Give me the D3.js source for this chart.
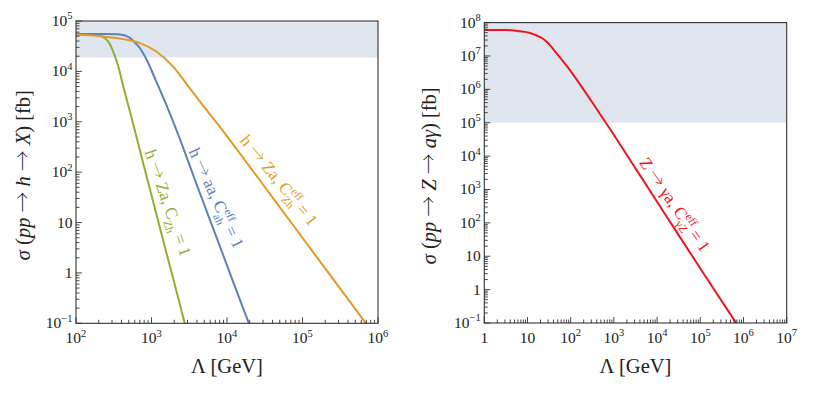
<!DOCTYPE html>
<html lang="en">
<head>
<meta charset="UTF-8">
<title>Cross sections vs Lambda</title>
<script src="https://d3js.org/d3.v7.min.js"></script>
<style>
  body { margin: 0; background: #fff; }
</style>
</head>
<body>
<div id="chart"></div>
<script>
// ---- data (Lambda in GeV, sigma in fb) ----
const greenLambda = [100, 158, 208, 234, 268, 312, 363, 423, 519, 794, 1259, 1995, 2754];
const greenSigma  = [5.4e4, 5.37e4, 5.2e4, 4.68e4, 3.9e4, 2.45e4, 1.26e4, 5.0e3, 1.58e3, 132, 9.1, 0.65, 0.1];

const blueLambda = [100, 251, 355, 417, 470, 525, 574, 631, 705, 863, 1112, 1510, 2265, 3981, 7943, 12590, 19500];
const blueSigma  = [5.5e4, 5.5e4, 5.45e4, 5.28e4, 5.0e4, 4.57e4, 3.98e4, 3.47e4, 2.88e4, 1.70e4, 7.24e3, 2.51e3, 550, 56, 3.55, 0.56, 0.1];

const orangeLambda = [100, 208, 423, 705, 1172, 1945, 3236, 5383, 7674, 19950, 63100, 199500, 691800];
const orangeSigma  = [5.4e4, 5.0e4, 4.37e4, 3.63e4, 2.45e4, 1.23e4, 4.57e3, 1.70e3, 871, 129, 12.6, 1.23, 0.1];

const redLambda = [1, 3.16, 5.8, 11.9, 15.8, 22, 30.2, 41, 83.4, 203, 413, 771, 3162, 15850, 1e5, 676000];
const redSigma  = [6.0e7, 6.0e7, 5.6e7, 4.8e7, 4.17e7, 3.4e7, 2.4e7, 1.5e7, 4.8e6, 9.5e5, 2.4e5, 7.2e4, 4.3e3, 170, 4.3, 0.1];

const leftBand  = [1.9e4, 1e5];
const rightBand = [1e5, 1e8];

const leftXTicks  = [1e2, 1e3, 1e4, 1e5, 1e6];
const leftYTicks  = [1e-1, 1, 10, 1e2, 1e3, 1e4, 1e5];
const rightXTicks = [1, 10, 1e2, 1e3, 1e4, 1e5, 1e6, 1e7];
const rightYTicks = [1e-1, 1, 10, 1e2, 1e3, 1e4, 1e5, 1e6, 1e7, 1e8];

const W = 831, H = 401;
const SERIF = "'Liberation Serif', 'Times New Roman', serif";
const ARROW = "'Noto Serif CJK SC', 'DejaVu Serif', serif";
const svg = d3.select("#chart").append("svg")
    .attr("width", W).attr("height", H)
    .style("display", "block")
    .attr("font-family", SERIF);

const FRAME = "#333";
const BAND = "#dfe6f0";

// rich text: segments {s, i, a} or {sup, sub}
function rich(text, segs, fs) {
    let cur = 0, pendDx = 0;
    text.attr("font-family", SERIF);
    segs.forEach(sg => {
        if (sg.sup != null || sg.sub != null) {
            const small = fs * 0.68;
            let w = 0;
            if (sg.sup != null) {
                const t = text.append("tspan").attr("font-size", small)
                    .attr("dy", -fs * 0.42 - cur).text(sg.sup);
                if (pendDx) t.attr("dx", pendDx), pendDx = 0;
                cur = -fs * 0.42;
                w = t.node().getComputedTextLength();
            }
            if (sg.sub != null) {
                const t = text.append("tspan").attr("font-size", small)
                    .attr("dx", -w).attr("dy", fs * 0.3 - cur).text(sg.sub);
                if (sg.subI) t.style("font-style", "italic");
                cur = fs * 0.3;
                const sw = t.node().getComputedTextLength();
                if (w > sw) pendDx = w - sw;
            }
        } else {
            const t = text.append("tspan").attr("dy", -cur).text(sg.s);
            if (pendDx) t.attr("dx", pendDx), pendDx = 0;
            if (sg.i) t.style("font-style", "italic");
            if (sg.a) t.attr("font-family", ARROW);
            cur = 0;
        }
    });
}

function tickSegs(v) {
    const e = Math.round(Math.log10(v));
    if (e === 0) return [{s: "1"}];
    if (e === 1) return [{s: "10"}];
    return [{s: "10"}, {sup: e < 0 ? "\u2212" + (-e) : String(e)}];
}

function minorTicks(domain) {
    const out = [];
    const lo = Math.floor(Math.log10(domain[0])), hi = Math.ceil(Math.log10(domain[1]));
    for (let d = lo; d < hi; d++) {
        for (let m = 2; m <= 9; m++) {
            const v = m * Math.pow(10, d);
            if (v > domain[0] && v < domain[1]) out.push(v);
        }
    }
    return out;
}

function panel(cfg, id) {
    const x = d3.scaleLog().domain(cfg.xDomain).range([cfg.x0, cfg.x1]);
    const y = d3.scaleLog().domain(cfg.yDomain).range([cfg.y1, cfg.y0]);

    svg.append("clipPath").attr("id", "clip" + id)
        .append("rect")
        .attr("x", cfg.x0).attr("y", cfg.y0)
        .attr("width", cfg.x1 - cfg.x0).attr("height", cfg.y1 - cfg.y0);

    // shaded region
    svg.append("rect")
        .attr("x", cfg.x0).attr("width", cfg.x1 - cfg.x0)
        .attr("y", y(cfg.band[1])).attr("height", y(cfg.band[0]) - y(cfg.band[1]))
        .attr("fill", BAND);

    // curves
    const line = d3.line()
        .x(d => x(d[0])).y(d => y(d[1]))
        .curve(d3.curveMonotoneX);
    cfg.series.forEach(s => {
        svg.append("path")
            .attr("clip-path", `url(#clip${id})`)
            .attr("d", line(d3.zip(s.lambda, s.sigma)))
            .attr("fill", "none")
            .attr("stroke", s.color)
            .attr("stroke-width", 2);
    });

    // frame
    svg.append("rect")
        .attr("x", cfg.x0).attr("y", cfg.y0)
        .attr("width", cfg.x1 - cfg.x0).attr("height", cfg.y1 - cfg.y0)
        .attr("fill", "none").attr("stroke", FRAME).attr("stroke-width", 1.1);

    // ticks, drawn inside the frame
    const tg = svg.append("g").attr("stroke", FRAME).attr("stroke-width", 0.9);
    cfg.xTicks.forEach(v => tg.append("line")
        .attr("x1", x(v)).attr("x2", x(v)).attr("y1", cfg.y1).attr("y2", cfg.y1 - 6));
    minorTicks(cfg.xDomain).forEach(v => tg.append("line")
        .attr("x1", x(v)).attr("x2", x(v)).attr("y1", cfg.y1).attr("y2", cfg.y1 - 3.5));
    cfg.yTicks.forEach(v => tg.append("line")
        .attr("y1", y(v)).attr("y2", y(v)).attr("x1", cfg.x0).attr("x2", cfg.x0 + 6));
    minorTicks(cfg.yDomain).forEach(v => tg.append("line")
        .attr("y1", y(v)).attr("y2", y(v)).attr("x1", cfg.x0).attr("x2", cfg.x0 + 3.5));

    // tick labels
    cfg.xTicks.forEach(v => {
        const t = svg.append("text").attr("x", x(v)).attr("y", cfg.y1 + 20)
            .attr("text-anchor", "middle").attr("font-size", 15.5).attr("fill", "#222");
        rich(t, tickSegs(v), 15.5);
    });
    cfg.yTicks.forEach(v => {
        const t = svg.append("text").attr("x", cfg.x0 - 3.5).attr("y", y(v) + 5)
            .attr("text-anchor", "end").attr("font-size", 15.5).attr("fill", "#222");
        rich(t, tickSegs(v), 15.5);
    });

    // axis titles
    const xt = svg.append("text")
        .attr("x", (cfg.x0 + cfg.x1) / 2).attr("y", 373)
        .attr("text-anchor", "middle").attr("font-size", 20.5).attr("fill", "#222");
    rich(xt, [{s: "\u039B [GeV]"}], 20.5);

    const yt = svg.append("text")
        .attr("transform", `translate(${cfg.yTitleX},${(cfg.y0 + cfg.y1) / 2 + 3}) rotate(-90)`)
        .attr("text-anchor", "middle").attr("font-size", 20.5).attr("fill", "#222");
    rich(yt, cfg.yTitle, 20.5);

    // curve labels
    cfg.labels.forEach(l => {
        const g = svg.append("g")
            .attr("transform", `translate(${x(l.at[0])},${y(l.at[1])}) rotate(${l.angle})`);
        const t = g.append("text").attr("y", 5)
            .attr("text-anchor", "middle").attr("font-size", 17).attr("fill", l.color);
        rich(t, l.segs, 17);
    });
}

const GREEN = "#8fb032", BLUE = "#5e81b5", ORANGE = "#e19c24", RED = "#f0141e";
const ARR = {s: " \u2192 ", a: true};

panel({
    x0: 76, x1: 378, y0: 21, y1: 323.3,
    xDomain: [1e2, 1e6], yDomain: [1e-1, 1e5],
    xTicks: leftXTicks, yTicks: leftYTicks,
    band: leftBand,
    yTitleX: 30,
    yTitle: [{s: "\u03C3", i: true}, {s: " ("}, {s: "pp", i: true}, ARR,
             {s: "h", i: true}, ARR, {s: "X", i: true}, {s: ") [fb]"}],
    series: [
        {lambda: greenLambda, sigma: greenSigma, color: GREEN},
        {lambda: blueLambda, sigma: blueSigma, color: BLUE},
        {lambda: orangeLambda, sigma: orangeSigma, color: ORANGE}
    ],
    labels: [
        {at: [1620, 24.3], angle: 71, color: GREEN,
         segs: [{s: "h"}, ARR, {s: "Za, C"}, {sub: "Zh"}, {s: " = 1"}]},
        {at: [7080, 30.3], angle: 65, color: BLUE,
         segs: [{s: "h"}, ARR, {s: "aa, C"}, {sup: "eff", sub: "ah"}, {s: " = 1"}]},
        {at: [47900, 67.5], angle: 50.7, color: ORANGE,
         segs: [{s: "h"}, ARR, {s: "Za, C"}, {sup: "eff", sub: "Zh"}, {s: " = 1"}]}
    ]
}, "L");

panel({
    x0: 484.3, x1: 786.7, y0: 22.6, y1: 323,
    xDomain: [1, 1e7], yDomain: [1e-1, 1e8],
    xTicks: rightXTicks, yTicks: rightYTicks,
    band: rightBand,
    yTitleX: 436,
    yTitle: [{s: "\u03C3", i: true}, {s: " ("}, {s: "pp", i: true}, ARR,
             {s: "Z", i: true}, ARR, {s: "a\u03B3", i: true}, {s: ") [fb]"}],
    series: [
        {lambda: redLambda, sigma: redSigma, color: RED}
    ],
    labels: [
        {at: [24900, 346], angle: 55.2, color: RED,
         segs: [{s: "Z"}, ARR, {s: "\u03B3a, C"}, {sup: "eff", sub: "\u03B3Z"}, {s: " = 1"}]}
    ]
}, "R");
</script>
</body>
</html>
